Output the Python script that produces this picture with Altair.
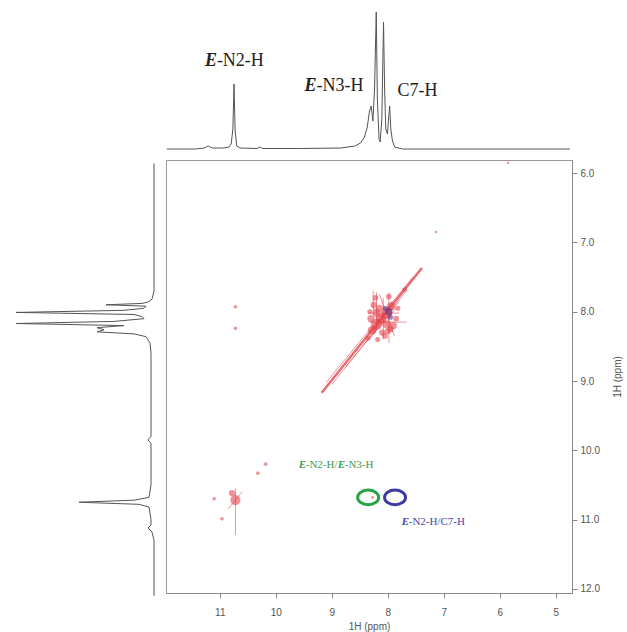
import altair as alt
import pandas as pd

# ---------------- data ----------------
# top 1D projection (ppm, intensity a.u.)
top_ppm = [11.91, 11.40, 11.24, 11.17, 11.10, 10.90, 10.80, 10.76, 10.73, 10.71, 10.69, 10.66,
           10.60, 10.30, 10.25, 10.20, 9.50, 8.80, 8.55, 8.45, 8.38, 8.33, 8.29, 8.26, 8.23,
           8.20, 8.17, 8.15, 8.12, 8.10, 8.07, 8.04, 8.02, 8.00, 7.97, 7.95, 7.93, 7.91, 7.88,
           7.84, 7.70, 4.71]
top_int = [0, 0, 1, 3, 1, 1, 2, 5, 20, 65, 18, 3,
           1, 0.5, 2, 0.5, 0.5, 1, 3, 6, 12, 22, 38, 43, 28,
           60, 137, 50, 10, 7, 30, 127, 60, 20, 15, 30, 43, 20, 8,
           2, 0, 0]

# left 1D projection (ppm, intensity a.u.)
left_ppm = [5.86, 7.70, 7.82, 7.86, 7.88, 7.90, 7.92, 7.95, 7.98, 8.01, 8.04, 8.07, 8.10,
            8.14, 8.17, 8.20, 8.23, 8.26, 8.29, 8.32, 8.36, 8.45, 8.60, 9.00, 9.80, 9.85,
            9.90, 10.50, 10.68, 10.72, 10.75, 10.78, 10.82, 11.00, 11.08, 11.12, 11.18,
            11.30, 12.10]
left_int = [0, 0, 2, 6, 12, 48, 8, 10, 30, 138, 20, 12, 10,
            40, 138, 30, 57, 50, 57, 20, 8, 4, 3, 3, 3, 6,
            3, 3, 5, 20, 75, 15, 5, 3, 3, 6, 2,
            0, 0]

# red cross peaks (F2 ppm, F1 ppm, intensity)
pk_x = [8.20, 8.02, 8.12, 8.28, 7.94, 8.20, 8.02, 8.22, 7.98, 8.05, 7.85, 8.35, 7.70,
        8.30, 8.15, 7.90, 8.25, 8.10, 8.00, 7.82, 8.32, 8.18, 7.95,
        10.72, 10.78, 10.72, 10.72, 11.10, 10.96, 10.18, 10.32, 7.14, 5.85, 8.27]
pk_y = [8.18, 8.02, 8.10, 8.27, 7.92, 8.02, 8.18, 7.80, 7.78, 8.35, 8.10, 8.38, 7.68,
        8.10, 7.95, 8.20, 7.90, 8.30, 8.28, 7.95, 8.00, 8.40, 8.25,
        10.72, 10.62, 7.93, 8.24, 10.70, 10.99, 10.20, 10.33, 6.85, 5.85, 10.68]
pk_int = [10, 10, 8, 6, 5, 5, 5, 2.5, 2.5, 2.5, 2.5, 2, 1.5,
          4, 4, 4, 3, 3, 3, 2, 2, 2, 3,
          8, 3, 1, 1, 1, 1, 1, 1, 0.5, 0.5, 0.6]

# blue (negative) cross peaks
neg_x = [7.98, 8.04, 7.95]
neg_y = [8.00, 7.95, 8.08]
neg_int = [4, 2, 2]

# diagonal ridge
diag_x1 = [9.18]
diag_y1 = [9.17]
diag_x2 = [7.39]
diag_y2 = [7.37]

# thin ridges / t1 streaks
seg_x1 = [9.10, 9.00, 8.75, 8.20, 7.98, 8.32, 8.08, 8.35, 8.30, 10.72, 10.85, 8.40, 8.15, 7.92, 8.26]
seg_y1 = [9.02, 9.05, 8.80, 7.72, 7.72, 8.15, 7.80, 8.02, 7.90, 10.55, 10.85, 8.45, 7.75, 7.85, 7.70]
seg_x2 = [7.55, 7.65, 7.80, 8.20, 7.98, 7.66, 8.08, 7.80, 7.90, 10.72, 10.60, 7.85, 7.88, 8.25, 8.26]
seg_y2 = [7.50, 7.68, 7.85, 8.25, 8.45, 8.15, 8.40, 8.02, 8.30, 11.22, 10.60, 7.95, 8.35, 8.30, 8.05]

# highlighted NOE correlations
ring_green_x = [8.35]
ring_green_y = [10.68]
ring_blue_x = [7.87]
ring_blue_y = [10.68]

# annotations: anchor (ppm, ppm)
top_lbl_x = [11.23, 9.45, 7.79]
top_lbl_y = [83, 58, 53]
top_lbl_rest = ["-N2-H", "-N3-H", "C7-H"]
top_lbl_hasE = [True, True, False]

noe1_x, noe1_y = [9.59], [10.26]   # E-N2-H/E-N3-H
noe2_x, noe2_y = [7.75], [11.08]   # E-N2-H/C7-H

x_ticks = [5, 5.5, 6, 6.5, 7, 7.5, 8, 8.5, 9, 9.5, 10, 10.5, 11, 11.5]
y_ticks = [6 + 0.25 * i for i in range(25)]

# ---------------- chart ----------------
X_DOM = [4.71, 11.96]
Y_DOM = [5.81, 12.06]
x_scale = alt.Scale(domain=X_DOM, reverse=True, nice=False, zero=False)
y_scale = alt.Scale(domain=Y_DOM, reverse=True, nice=False, zero=False)

RED = "#e23a44"
GREEN = "#27a445"
BLUE = "#3c3c9e"
AX = "#8a8a8a"
LAB = "#555555"
SERIF = "Liberation Serif"

W, H = 406, 433
TOP_H, LEFT_W = 145, 150

# --- top projection
top_df = pd.DataFrame({"ppm": top_ppm, "inten": top_int})
top_line = alt.Chart(top_df).mark_line(color="#555555", strokeWidth=1).encode(
    x=alt.X("ppm:Q", scale=x_scale, axis=None),
    y=alt.Y("inten:Q", scale=alt.Scale(domain=[0, TOP_H], nice=False), axis=None),
)
top_layers = [top_line]
for i in range(len(top_lbl_x)):
    d = pd.DataFrame({"x": [top_lbl_x[i]], "y": [top_lbl_y[i]]})
    enc = dict(x=alt.X("x:Q", scale=x_scale), y=alt.Y("y:Q", scale=alt.Scale(domain=[0, TOP_H], nice=False)))
    if top_lbl_hasE[i]:
        top_layers.append(alt.Chart(d).mark_text(text="E", align="left", baseline="alphabetic",
                                                 font=SERIF, fontSize=18, fontStyle="italic",
                                                 fontWeight="bold", color="#222222").encode(**enc))
        dx = 12
    else:
        dx = 0
    top_layers.append(alt.Chart(d).mark_text(text=top_lbl_rest[i], align="left", baseline="alphabetic",
                                             font=SERIF, fontSize=18, dx=dx,
                                             color="#222222").encode(**enc))
top = alt.layer(*top_layers).properties(width=W, height=TOP_H)

# --- left projection
left_df = pd.DataFrame({"ppm": left_ppm, "inten": left_int})
left = alt.Chart(left_df).mark_line(color="#555555", strokeWidth=1).encode(
    x=alt.X("inten:Q", scale=alt.Scale(domain=[0, LEFT_W], reverse=True, nice=False), axis=None),
    y=alt.Y("ppm:Q", scale=y_scale, axis=None),
    order=alt.Order("ppm:Q"),
).properties(width=LEFT_W, height=H)

blank = alt.Chart(pd.DataFrame({"v": [0]})).mark_point(opacity=0, size=0).encode(
    x=alt.value(LEFT_W / 2), y=alt.value(TOP_H / 2)
).properties(width=LEFT_W, height=TOP_H)

# --- 2D map
minor_x = "datum.value % 1 != 0"
minor_y = "datum.value % 0.5 != 0"
x_axis = alt.Axis(values=x_ticks, labelExpr=f"{minor_x} ? '' : format(datum.value, 'd')",
                  tickSize={"condition": {"test": minor_x, "value": 3}, "value": 5},
                  title="1H (ppm)", grid=False, domainColor=AX, tickColor=AX,
                  labelColor=LAB, labelFont="Liberation Sans", labelFontSize=10,
                  labelPadding=9, labelOverlap=False, labelFlush=False,
                  titleColor=LAB, titleFont="Liberation Sans", titleFontSize=10,
                  titleFontWeight="normal", titlePadding=4)
y_axis = alt.Axis(values=y_ticks, orient="right",
                  labelExpr=f"{minor_y} ? '' : format(datum.value, '.1f')",
                  tickSize={"condition": {"test": minor_y, "value": 3}, "value": 5},
                  title="1H (ppm)", grid=False, domainColor=AX, tickColor=AX,
                  labelColor=LAB, labelFont="Liberation Sans", labelFontSize=10,
                  labelPadding=3, labelOverlap=False, labelFlush=False,
                  titleColor=LAB, titleFont="Liberation Sans", titleFontSize=10,
                  titleFontWeight="normal", titleAngle=270, titlePadding=23)

seg_df = pd.DataFrame({"x": seg_x1, "y": seg_y1, "x2": seg_x2, "y2": seg_y2})
diag_df = pd.DataFrame({"x": diag_x1, "y": diag_y1, "x2": diag_x2, "y2": diag_y2})
pk_df = pd.DataFrame({"x": pk_x, "y": pk_y, "i": pk_int})
neg_df = pd.DataFrame({"x": neg_x, "y": neg_y, "i": neg_int})

size_scale = alt.Scale(domain=[0, 10], range=[0, 130])

diag = alt.Chart(diag_df).mark_rule(color=RED, strokeWidth=2.5, opacity=0.75).encode(
    x=alt.X("x:Q", scale=x_scale, axis=x_axis), y=alt.Y("y:Q", scale=y_scale, axis=y_axis),
    x2="x2:Q", y2="y2:Q")
segs = alt.Chart(seg_df).mark_rule(color=RED, strokeWidth=1, opacity=0.55).encode(
    x=alt.X("x:Q", scale=x_scale), y=alt.Y("y:Q", scale=y_scale), x2="x2:Q", y2="y2:Q")
peaks = alt.Chart(pk_df).mark_circle(color=RED, opacity=0.55).encode(
    x=alt.X("x:Q", scale=x_scale), y=alt.Y("y:Q", scale=y_scale),
    size=alt.Size("i:Q", scale=size_scale, legend=None))
negs = alt.Chart(neg_df).mark_circle(color="#5a3a8a", opacity=0.6).encode(
    x=alt.X("x:Q", scale=x_scale), y=alt.Y("y:Q", scale=y_scale),
    size=alt.Size("i:Q", scale=size_scale, legend=None))

ELLIPSE = "M-1,0A1,0.7,0,1,1,1,0A1,0.7,0,1,1,-1,0Z"
ring_g = alt.Chart(pd.DataFrame({"x": ring_green_x, "y": ring_green_y})).mark_point(
    shape=ELLIPSE, filled=False, size=441, strokeWidth=3, color=GREEN, opacity=1).encode(
    x=alt.X("x:Q", scale=x_scale), y=alt.Y("y:Q", scale=y_scale))
ring_b = alt.Chart(pd.DataFrame({"x": ring_blue_x, "y": ring_blue_y})).mark_point(
    shape=ELLIPSE, filled=False, size=441, strokeWidth=3, color=BLUE, opacity=1).encode(
    x=alt.X("x:Q", scale=x_scale), y=alt.Y("y:Q", scale=y_scale))


def piece(xs, ys, text, dx, color, bold):
    d = pd.DataFrame({"x": xs, "y": ys})
    kw = dict(text=text, align="left", baseline="alphabetic", font=SERIF, fontSize=11,
              dx=dx, color=color)
    if bold:
        kw.update(fontStyle="italic", fontWeight="bold")
    return alt.Chart(d).mark_text(**kw).encode(
        x=alt.X("x:Q", scale=x_scale), y=alt.Y("y:Q", scale=y_scale))


LBL_G = "#3f9a55"
LBL_B = "#4747a6"
labels = [
    piece(noe1_x, noe1_y, "E", 0, LBL_G, True),
    piece(noe1_x, noe1_y, "-N2-H/", 7, LBL_G, False),
    piece(noe1_x, noe1_y, "E", 39, LBL_G, True),
    piece(noe1_x, noe1_y, "-N3-H", 46, LBL_G, False),
    piece(noe2_x, noe2_y, "E", 0, LBL_B, True),
    piece(noe2_x, noe2_y, "-N2-H/C7-H", 7, LBL_B, False),
]

main = alt.layer(diag, segs, peaks, negs, ring_g, ring_b, *labels).properties(
    width=W, height=H, view=alt.ViewBackground(stroke="#9a9a9a", strokeWidth=1))

chart = alt.vconcat(
    alt.hconcat(blank, top, spacing=8),
    alt.hconcat(left, main, spacing=8),
    spacing=7,
).properties(
    padding={"left": 3, "top": 3, "right": 0, "bottom": 0}
).configure_view(stroke="transparent")

chart.save("out.html", embed_options={"renderer": "svg", "actions": False})
